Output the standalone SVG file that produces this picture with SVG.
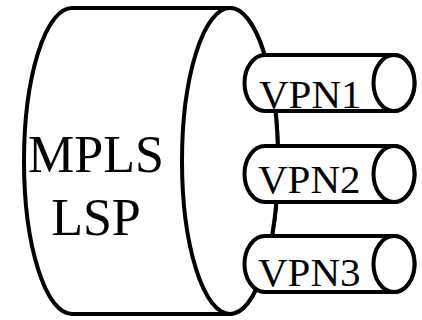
<svg xmlns="http://www.w3.org/2000/svg" width="422" height="320" viewBox="0 0 422 320">
<style>
.shape{fill:#fff;stroke:#000;stroke-width:4;stroke-linejoin:round}
.big{font-family:"Liberation Serif","Times New Roman",serif;font-size:52px;fill:#000;text-anchor:middle}
.small{font-family:"Liberation Serif","Times New Roman",serif;font-size:41px;fill:#000}
</style>
<g id="mpls-lsp">
<path class="shape" d="M72,8 L230,8 A48,153 0 0 1 230,314 L72,314 A48,153 0 0 1 72,8 Z"/>
<ellipse class="shape" cx="230" cy="161" rx="48" ry="153"/>
<text class="big" x="96" y="172">MPLS</text>
<text class="big" x="96" y="235">LSP</text>
</g>
<g id="connectors"></g>
<g id="vpn1">
<path class="shape" d="M265,55 L394,55 A20.5,28 0 0 1 394,111 L265,111 A20.5,28 0 0 1 265,55 Z"/>
<ellipse class="shape" cx="394" cy="83" rx="20.5" ry="28"/>
<text class="small" x="259" y="108">VPN1</text>
</g>
<g id="vpn2">
<path class="shape" d="M265,146 L394,146 A20.5,28 0 0 1 394,202 L265,202 A20.5,28 0 0 1 265,146 Z"/>
<ellipse class="shape" cx="394" cy="174" rx="20.5" ry="28"/>
<text class="small" x="258" y="193">VPN2</text>
</g>
<g id="vpn3">
<path class="shape" d="M265,236 L394,236 A20.5,28 0 0 1 394,292 L265,292 A20.5,28 0 0 1 265,236 Z"/>
<ellipse class="shape" cx="394" cy="264" rx="20.5" ry="28"/>
<text class="small" x="258" y="286">VPN3</text>
</g>
</svg>
